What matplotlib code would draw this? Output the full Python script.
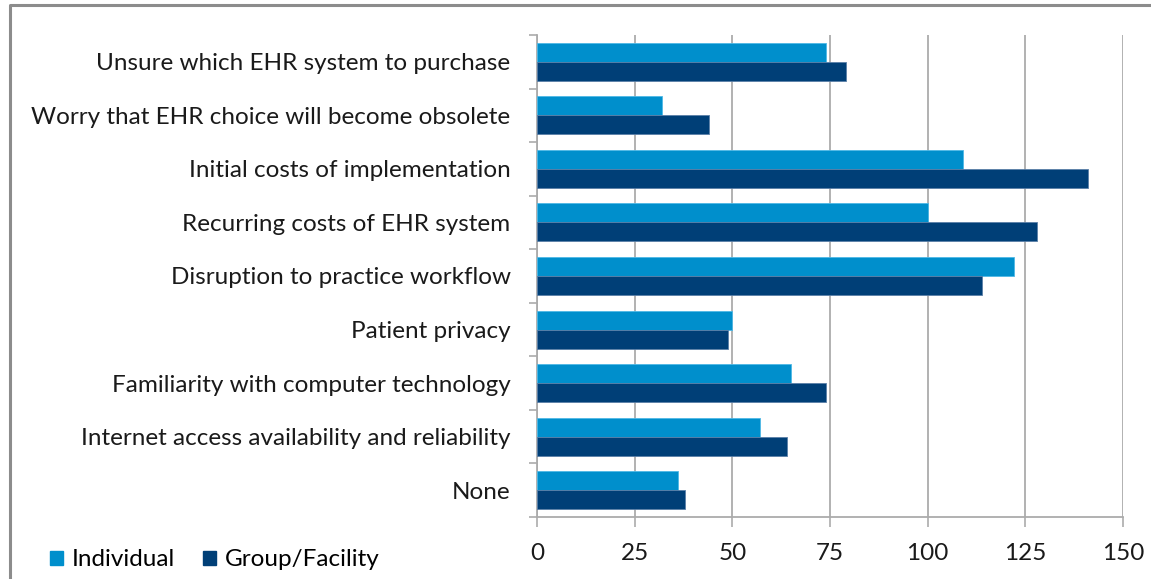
import matplotlib
matplotlib.use("Agg")
import matplotlib.pyplot as plt
from matplotlib.patches import Patch
from matplotlib.lines import Line2D
import numpy as np

categories = [
    "Unsure which EHR system to purchase",
    "Worry that EHR choice will become obsolete",
    "Initial costs of implementation",
    "Recurring costs of EHR system",
    "Disruption to practice workflow",
    "Patient privacy",
    "Familiarity with computer technology",
    "Internet access availability and reliability",
    "None",
]
individual = [74, 32, 109, 100, 122, 50, 65, 57, 36]
group_facility = [79, 44, 141, 128, 114, 49, 74, 64, 38]
series_names = ["Individual", "Group/Facility"]
x_ticks = [0, 25, 50, 75, 100, 125, 150]

c_ind = "#008FCC"
c_grp = "#003F77"
grid_c = "#ABABAB"
fs = 17.5

plt.rcParams['font.family'] = ['Lato', 'DejaVu Sans']

W, H = 1151, 579
fig = plt.figure(figsize=(W / 100, H / 100), dpi=100)
ax = fig.add_axes([537 / W, 1 - 517 / H, (1123 - 537) / W, (517 - 35) / H])

y = np.arange(len(categories))
h = 0.355
ax.barh(y - h / 2, individual, height=h, color=c_ind, edgecolor="#4FB8E6", linewidth=0.6, zorder=3)
ax.barh(y + h / 2, group_facility, height=h, color=c_grp, edgecolor="#5A7FA8", linewidth=0.6, zorder=3)

ax.set_ylim(len(categories) - 0.5, -0.5)
ax.set_xlim(0, 150)
ax.set_xticks(x_ticks)
ax.set_xticklabels([str(t) for t in x_ticks], fontsize=fs, color="#1a1a1a")
ax.set_yticks(y)
ax.set_yticklabels(categories, fontsize=fs, color="#1a1a1a")
ax.set_yticks(np.arange(-0.5, len(categories), 1), minor=True)
ax.tick_params(axis='y', which='major', length=0, pad=19)
ax.tick_params(axis='y', which='minor', length=5.5, width=1.2, color=grid_c)
ax.tick_params(axis='x', which='major', length=7, width=1.2, color=grid_c, pad=12)

ax.xaxis.grid(True, color=grid_c, linewidth=1.3, zorder=0)
ax.set_axisbelow(True)
for s in ["top", "right"]:
    ax.spines[s].set_visible(False)
for s in ["left", "bottom"]:
    ax.spines[s].set_color(grid_c)
    ax.spines[s].set_linewidth(1.3)

handles = [Patch(color=c_ind), Patch(color=c_grp)]
fig.legend(handles, series_names, loc="center left", bbox_to_anchor=(40 / W, 1 - 560 / H),
           ncol=2, frameon=False, fontsize=fs, handlelength=0.55, handleheight=0.55,
           handletextpad=0.35, columnspacing=1.15, borderaxespad=0)

# outer chart frame (left and top edges visible)
fig.add_artist(Line2D([10, 10, W + 5], [-5, H - 5, H - 5], transform=None,
                      color="#8C8C8C", linewidth=2.2))

fig.savefig("out.png", dpi=100)
